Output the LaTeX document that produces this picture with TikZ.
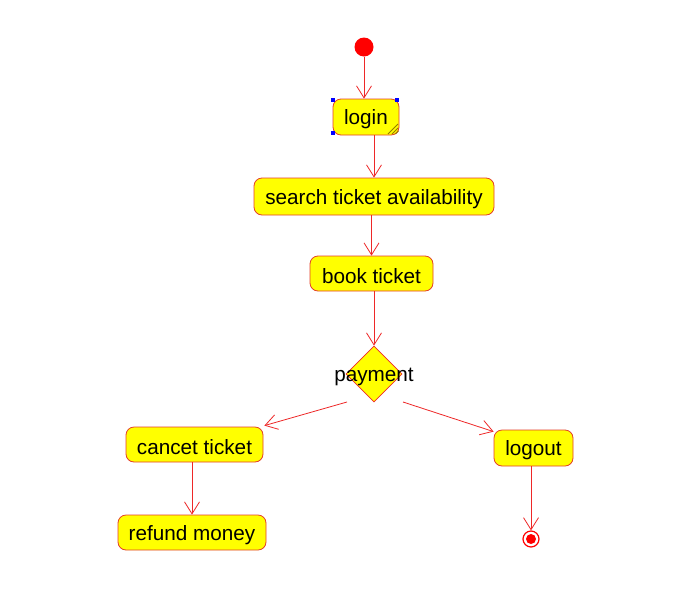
\documentclass[tikz,border=0pt]{standalone}
\usepackage{fontspec}
\setmainfont{Liberation Sans}
\usetikzlibrary{shapes.geometric,arrows.meta,calc}
\definecolor{lnred}{RGB}{238,40,40}
\definecolor{bdred}{RGB}{228,64,40}
\definecolor{fillyel}{RGB}{255,255,0}
\definecolor{hatch}{RGB}{150,120,0}
\newcommand{\lowtxt}[1]{\raisebox{-2.5pt}[\height][\depth]{#1}}
\begin{document}
\begin{tikzpicture}[x=1pt,y=-1pt,
  act/.style={draw=bdred, fill=fillyel, rounded corners=8pt, minimum height=36pt,
    inner sep=0pt, font=\fontsize{20.7}{24}\selectfont, line width=0.8pt},
  flow/.style={draw=lnred, line width=0.8pt, -{Straight Barb[length=12pt,width=15pt]}},
  handle/.style={fill=blue, draw=none, minimum size=4pt, inner sep=0pt}]
\useasboundingbox (0,0) rectangle (691,611);
\fill[white] (0,0) rectangle (691,611);

\node[circle, fill=red, minimum size=19pt, inner sep=0pt] (start) at (364,47) {};
\node[act, minimum width=66pt] (login) at (366,117) {\lowtxt{login}};
\node[act, minimum width=240pt, minimum height=37pt] (search) at (374,196.5) {\lowtxt{search ticket availability}};
\node[act, minimum width=123pt, minimum height=35pt] (book) at (371.5,273.5) {\lowtxt{book ticket}};
\node[diamond, draw=lnred, fill=fillyel, minimum width=56pt, minimum height=56pt, inner sep=0pt, line width=0.8pt] (dia) at (374,374) {};
\node[font=\fontsize{20.7}{24}\selectfont, inner sep=0pt] (paylbl) at (374,374) {\lowtxt{payment}};
\node[act, minimum width=137pt, minimum height=35pt] (cancel) at (194.5,444.5) {\lowtxt{cancet ticket}};
\node[act, minimum width=148pt, minimum height=35pt] (refund) at (192,532.5) {\lowtxt{refund money}};
\node[act, minimum width=79pt] (logout) at (533.5,448) {\lowtxt{logout}};
\node[circle, draw=red, fill=white, line width=1.2pt, minimum size=16pt, inner sep=0pt] (end) at (531,539) {};
\node[circle, fill=red, minimum size=10pt, inner sep=0pt] (endin) at (end.center) {};

% selection handles and corner hatch on login
\node[handle] (h1) at (333,100) {};
\node[handle] (h2) at (397,100) {};
\node[handle] (h3) at (333,133) {};
\draw[hatch, line width=0.8pt] (388,134) -- (398,124) (392,134) -- (398,128) (395.5,134) -- (398.5,131);

\coordinate (dl) at ($(dia.center)+(-27,28)$);
\coordinate (dr) at ($(dia.center)+(29,28)$);

\draw[flow] (start.south) -- (start.south |- login.north);
\draw[flow] (search.north |- login.south) -- (search.north);
\draw[flow] (book.north |- search.south) -- (book.north);
\draw[flow] (dia.north |- book.south) -- (dia.north);
\draw[flow] (dl) -- ($(cancel.north east)+(1,-1)$);
\draw[flow] (dr) -- ($(logout.north west)+(0,2)$);
\draw[flow] (refund.north |- cancel.south) -- (refund.north);
\draw[flow] (end.north |- logout.south) -- (end.north);
\end{tikzpicture}
\end{document}
